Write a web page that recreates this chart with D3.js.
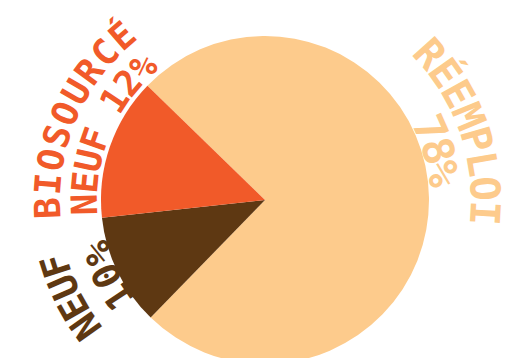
<!DOCTYPE html>
<html>
<head>
<meta charset="utf-8">
<script src="https://cdn.jsdelivr.net/npm/d3@7"></script>
<style>
  html, body { margin: 0; padding: 0; background: #fff; }
  svg { display: block; }
  text { font-family: "DejaVu Sans Mono", monospace; font-weight: bold; }
</style>
</head>
<body>
<svg id="chart" width="508" height="358"></svg>
<script>
// ---- data ----
const categories = ["Réemploi", "Neuf", "Biosourcé neuf"];
const values = [75, 11, 14];
const nameLabels = ["RÉEMPLOI", "NEUF", "BIOSOURCÉ"];
const valueLabels = ["78%", "10%", "NEUF 12%"];
const colors = ["#FDCB8C", "#5E3812", "#F15A29"];

// ---- layout ----
const W = 508, H = 358;
const cx = 265, cy = 200, R = 164;
const startDeg = -45.8;
// per label: [outer line, inner line] -> shift from slice middle (deg), arc span (deg), baseline radius, font size
const lineLayout = [
  [{shift: -18.3, span: 51.5, r: 206, fs: 41}, {shift: -15.0, span: 22.5, r: 165, fs: 43}],
  [{shift: -0.3, span: 23.8, r: 206, fs: 38}, {shift: 0.4, span: 24.0, r: 162, fs: 38}],
  [{shift: 4.4, span: 57.5, r: 205, fs: 36}, {shift: 4.1, span: 56.0, r: 168, fs: 36}]
];

const svg = d3.select("#chart");
const g = svg.append("g").attr("transform", `translate(${cx},${cy})`);

const pie = d3.pie().sort(null).value(d => d)
  .startAngle(startDeg * Math.PI / 180)
  .endAngle(startDeg * Math.PI / 180 + 2 * Math.PI);
const arcs = pie(values);
const arc = d3.arc().innerRadius(0).outerRadius(R);

g.selectAll("path.slice").data(arcs).join("path")
  .attr("class", "slice")
  .attr("d", arc)
  .attr("fill", (d, i) => colors[i]);

const defs = svg.append("defs");
const toRad = Math.PI / 180;
function circlePath(r, midAngle) {
  const a = midAngle - Math.PI / 2;
  const p = d3.path();
  p.arc(0, 0, r, a - 1.5, a + 1.5, false);
  return p.toString();
}

arcs.forEach((d, i) => {
  const mid = (d.startAngle + d.endAngle) / 2;
  [nameLabels[i], valueLabels[i]].forEach((txt, j) => {
    const L = lineLayout[i][j];
    const id = `lp-${i}-${j}`;
    defs.append("path").attr("id", id).attr("d", circlePath(L.r, mid + L.shift * toRad));
    const t = g.append("text")
      .attr("font-size", L.fs)
      .attr("fill", colors[i]);
    t.append("textPath")
      .attr("href", `#${id}`)
      .attr("startOffset", "50%")
      .attr("text-anchor", "middle")
      .text(txt);
    // fit letter spacing so the line covers its arc span
    const natural = t.node().getComputedTextLength();
    const target = L.span * toRad * L.r;
    const n = [...txt].length;
    const ls = (target - natural) / n;
    t.attr("letter-spacing", ls).attr("dx", ls / 2);
  });
});
</script>
</body>
</html>
